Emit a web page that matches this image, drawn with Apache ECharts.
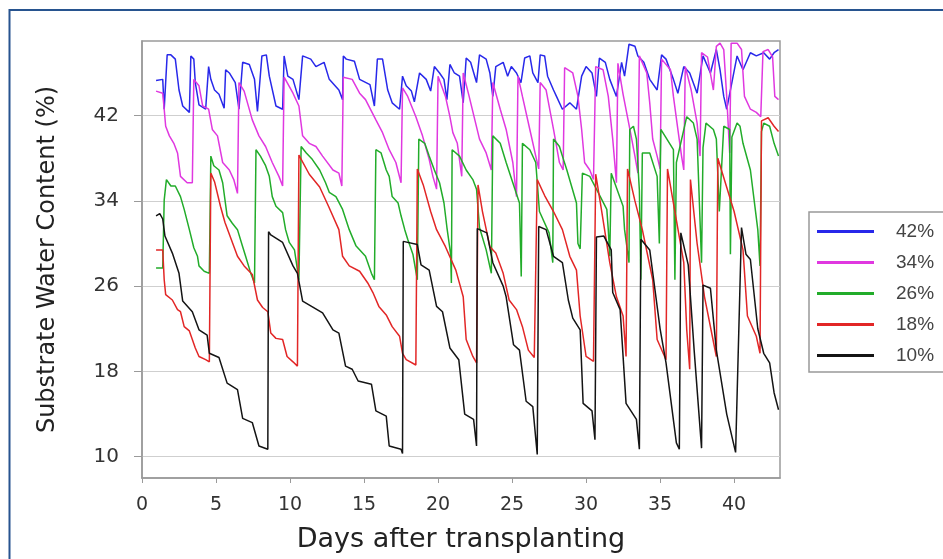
<!DOCTYPE html>
<html>
<head>
<meta charset="utf-8">
<script src="https://cdn.jsdelivr.net/npm/echarts@6/dist/echarts.min.js"></script>
<style>
  html, body { margin: 0; padding: 0; background: #fff; }
  #chart { width: 943px; height: 559px; }
</style>
</head>
<body>
<div id="chart"></div>
<script>
// x ticks and y ticks
const xTicks = [0, 5, 10, 15, 20, 25, 30, 35, 40]
const yTicks = [10, 18, 26, 34, 42]
const legendNames = ['42%', '34%', '26%', '18%', '10%']

// [day, water content %]
const blue42 = [[0.95,45.3],[1.4,45.4],[1.5,42.6],[1.7,47.7],[1.95,47.7],[2.25,47.3],[2.5,44.4],[2.75,42.9],[3.2,42.3],[3.3,47.6],[3.5,47.3],[3.6,45.1],[3.85,43.0],[4.3,42.6],[4.5,46.6],[4.65,45.4],[4.9,44.4],[5.2,44.0],[5.55,42.7],[5.65,46.3],[5.9,46.0],[6.3,45.1],[6.55,42.6],[6.8,47.0],[7.25,46.8],[7.6,45.4],[7.8,42.4],[8.1,47.6],[8.4,47.7],[8.6,45.7],[9.05,42.9],[9.5,42.6],[9.6,47.6],[9.85,45.7],[10.2,45.4],[10.6,43.5],[10.85,47.6],[11.4,47.3],[11.75,46.6],[12.3,47.0],[12.65,45.4],[13.3,44.4],[13.55,43.5],[13.6,47.6],[13.8,47.3],[14.35,47.1],[14.7,45.4],[15.4,44.9],[15.7,42.9],[15.9,47.3],[16.25,47.3],[16.6,44.4],[16.9,43.2],[17.4,42.6],[17.6,45.7],[17.85,44.8],[18.2,44.3],[18.4,43.3],[18.75,46.0],[19.2,45.4],[19.5,44.3],[19.75,46.6],[20.1,46.0],[20.4,45.4],[20.6,43.5],[20.8,46.8],[21.1,46.0],[21.45,45.7],[21.7,43.2],[21.9,47.4],[22.2,47.0],[22.6,45.1],[22.8,47.7],[23.25,47.3],[23.5,46.0],[23.7,43.8],[23.9,46.6],[24.4,47.0],[24.7,45.7],[24.95,46.6],[25.3,46.0],[25.6,45.1],[25.85,47.4],[26.2,47.6],[26.4,46.0],[26.75,45.1],[26.9,47.7],[27.2,47.6],[27.4,45.7],[27.8,44.4],[28.0,43.8],[28.4,42.6],[28.9,43.2],[29.35,42.6],[29.7,45.7],[30.0,46.6],[30.4,46.0],[30.7,43.8],[30.9,47.4],[31.3,47.0],[31.6,45.4],[32.05,43.8],[32.4,47.0],[32.6,45.7],[32.9,48.7],[33.3,48.5],[33.5,47.6],[33.9,47.0],[34.3,45.4],[34.8,44.4],[35.1,47.7],[35.4,47.3],[35.9,45.4],[36.2,44.1],[36.6,46.6],[37.0,46.0],[37.5,44.1],[37.9,47.6],[38.4,46.0],[38.8,48.2],[39.05,46.3],[39.3,43.8],[39.5,42.6],[40.2,47.6],[40.6,46.3],[41.1,47.9],[41.5,47.6],[42.0,47.9],[42.4,47.3],[42.7,47.9],[43.0,48.2]]

const magenta34 = [[0.95,44.3],[1.4,44.1],[1.5,42.6],[1.6,41.0],[1.85,40.1],[2.15,39.4],[2.4,38.5],[2.6,36.3],[3.05,35.7],[3.4,35.7],[3.5,45.4],[3.85,44.8],[4.1,42.9],[4.5,42.6],[4.75,40.7],[5.1,40.1],[5.45,37.6],[5.9,36.9],[6.2,36.0],[6.45,34.7],[6.55,45.1],[6.9,44.3],[7.45,41.6],[7.9,40.1],[8.35,39.1],[8.8,37.6],[9.25,36.3],[9.5,35.4],[9.6,45.6],[10.2,44.1],[10.6,42.9],[10.85,40.1],[11.3,39.4],[11.75,39.1],[12.2,38.2],[12.9,36.9],[13.3,36.6],[13.5,35.4],[13.6,45.6],[14.2,45.4],[14.7,44.1],[15.1,43.5],[15.8,41.6],[16.25,40.4],[16.7,38.8],[17.15,37.6],[17.5,35.7],[17.6,44.6],[17.95,43.8],[18.5,41.9],[18.95,40.1],[19.4,37.9],[19.65,36.3],[19.9,35.1],[20.0,45.7],[20.5,43.8],[20.8,41.9],[21.0,40.4],[21.3,39.4],[21.6,36.3],[21.7,46.0],[22.1,43.8],[22.8,39.8],[23.25,38.5],[23.6,36.9],[23.7,45.1],[24.2,42.6],[24.6,40.7],[25.05,37.6],[25.3,34.4],[25.4,45.7],[25.7,43.8],[26.2,40.7],[26.6,38.2],[26.8,37.0],[26.9,45.1],[27.3,44.4],[27.8,40.7],[28.2,37.6],[28.45,36.9],[28.55,46.5],[29.1,46.0],[29.45,43.8],[29.7,40.7],[29.9,37.6],[30.25,36.9],[30.5,36.0],[30.65,46.6],[31.15,46.3],[31.5,43.8],[31.8,39.8],[32.05,35.7],[32.15,46.9],[32.5,44.0],[32.96,40.7],[33.3,38.2],[33.5,36.6],[33.6,47.6],[34.1,46.0],[34.3,43.2],[34.5,39.8],[34.8,38.2],[35.0,37.0],[35.1,47.3],[35.7,46.3],[35.9,43.8],[36.2,40.7],[36.45,38.2],[36.6,36.9],[36.7,46.6],[37.1,44.4],[37.5,41.3],[37.7,38.2],[37.8,47.9],[38.2,47.5],[38.6,44.4],[38.8,48.5],[39.05,48.8],[39.3,48.2],[39.5,43.8],[39.7,38.5],[39.8,48.8],[40.2,48.8],[40.5,48.2],[40.7,43.8],[41.1,42.6],[41.5,42.3],[41.8,41.9],[41.95,48.0],[42.3,48.2],[42.6,47.5],[42.75,43.8],[43.0,43.5]]

const green26 = [[0.95,27.7],[1.4,27.7],[1.5,34.1],[1.65,36.0],[1.95,35.4],[2.25,35.4],[2.6,34.4],[2.85,33.2],[3.2,31.3],[3.5,29.6],[3.75,28.8],[3.85,27.9],[4.2,27.4],[4.55,27.2],[4.65,38.2],[4.85,37.3],[5.2,36.9],[5.45,35.7],[5.75,32.6],[6.1,31.9],[6.45,31.3],[6.8,29.7],[7.0,28.8],[7.35,27.2],[7.6,26.3],[7.7,38.8],[8.0,38.2],[8.35,37.3],[8.6,36.3],[8.8,34.4],[9.05,33.5],[9.5,32.9],[9.7,31.3],[9.95,30.1],[10.3,29.4],[10.6,26.6],[10.75,39.1],[11.1,38.5],[11.5,37.9],[12.0,36.9],[12.4,35.7],[12.65,34.8],[13.1,34.4],[13.55,33.2],[14.0,31.3],[14.45,29.8],[15.1,28.8],[15.5,27.2],[15.7,26.6],[15.8,38.8],[16.15,38.5],[16.5,36.9],[16.7,36.3],[16.9,34.4],[17.3,33.8],[17.5,32.6],[17.75,31.3],[17.95,30.4],[18.3,29.0],[18.6,26.6],[18.7,39.8],[19.1,39.4],[19.4,38.2],[19.75,36.9],[20.1,35.7],[20.4,33.8],[20.6,31.5],[20.85,29.0],[20.9,26.3],[20.95,38.8],[21.45,38.2],[21.9,36.9],[22.35,36.0],[22.6,35.1],[22.8,31.5],[23.25,29.4],[23.6,27.2],[23.7,40.1],[24.2,39.4],[24.6,37.6],[25.05,35.7],[25.5,33.8],[25.62,26.9],[25.7,39.4],[26.2,38.8],[26.6,37.6],[26.85,33.0],[27.5,31.0],[27.75,28.2],[27.8,39.8],[28.2,39.1],[28.4,38.2],[28.7,36.9],[29.35,33.8],[29.45,30.0],[29.6,29.5],[29.75,36.6],[30.25,36.3],[30.7,35.1],[31.4,33.2],[31.5,31.3],[31.6,28.8],[31.7,36.6],[32.5,33.5],[32.6,31.3],[32.9,28.2],[32.95,40.7],[33.2,41.0],[33.4,39.8],[33.6,35.0],[33.7,26.6],[33.8,38.5],[34.3,38.5],[34.8,36.3],[34.95,30.0],[35.05,40.7],[35.9,38.8],[36.0,26.6],[36.1,37.6],[36.8,41.9],[37.25,41.3],[37.5,39.8],[37.8,28.2],[37.9,39.0],[38.1,41.3],[38.6,40.7],[38.8,39.8],[39.0,33.0],[39.3,41.0],[39.7,40.7],[39.75,29.0],[39.85,40.0],[40.2,41.3],[40.4,41.0],[40.6,39.4],[41.1,36.9],[41.6,31.3],[41.75,27.9],[41.85,40.5],[42.0,41.3],[42.4,41.0],[42.7,39.4],[43.0,38.2]]

const red18 = [[0.95,29.4],[1.4,29.4],[1.5,26.6],[1.6,25.2],[2.05,24.7],[2.4,23.8],[2.6,23.6],[2.85,22.2],[3.2,21.8],[3.4,21.0],[3.6,20.2],[3.85,19.4],[4.3,19.1],[4.55,18.9],[4.65,36.6],[4.9,35.8],[5.3,33.5],[5.6,32.0],[6.0,30.5],[6.45,28.8],[6.9,27.9],[7.45,27.1],[7.8,24.7],[8.15,24.0],[8.5,23.6],[8.7,21.6],[9.05,21.1],[9.5,21.0],[9.8,19.4],[10.2,18.9],[10.5,18.5],[10.6,38.3],[11.3,36.5],[12.0,35.3],[12.6,33.5],[13.3,31.3],[13.55,28.8],[14.0,27.9],[14.7,27.4],[15.25,26.3],[15.6,25.4],[16.0,24.1],[16.5,23.3],[16.9,22.2],[17.4,21.3],[17.6,19.7],[17.85,19.1],[18.5,18.6],[18.6,37.0],[19.0,35.5],[19.5,33.0],[19.9,31.3],[20.5,29.7],[21.2,27.5],[21.7,25.0],[21.9,21.0],[22.35,19.4],[22.6,18.8],[22.7,35.5],[23.0,33.0],[23.5,29.7],[23.9,29.1],[24.4,27.2],[24.8,24.7],[25.3,23.8],[25.7,22.2],[26.1,20.0],[26.5,19.3],[26.7,36.0],[27.2,34.5],[27.8,33.0],[28.4,31.3],[28.9,28.8],[29.35,27.5],[29.6,23.2],[30.0,19.4],[30.5,18.95],[30.65,36.5],[31.0,33.5],[31.6,28.2],[32.05,25.0],[32.5,23.2],[32.7,19.4],[32.8,37.0],[33.3,34.0],[33.8,31.3],[34.5,26.6],[34.8,21.0],[35.4,19.1],[35.5,37.0],[36.0,33.0],[36.6,28.2],[36.8,21.9],[37.0,18.2],[37.05,36.0],[37.5,30.0],[38.0,25.0],[38.8,19.4],[38.9,38.0],[40.0,33.0],[40.6,29.4],[40.9,23.2],[41.5,21.3],[41.75,19.7],[41.85,41.5],[42.3,41.8],[42.7,41.0],[43.0,40.5]]

const black10 = [[0.95,32.6],[1.2,32.8],[1.4,32.3],[1.55,30.7],[2.05,29.1],[2.5,27.2],[2.75,24.6],[3.4,23.6],[3.85,21.9],[4.4,21.4],[4.55,19.7],[5.2,19.3],[5.75,16.9],[6.45,16.3],[6.8,13.6],[7.45,13.2],[7.9,11.0],[8.5,10.7],[8.55,31.1],[8.7,30.8],[9.5,30.1],[10.2,27.9],[10.5,27.2],[10.85,24.6],[12.2,23.5],[12.9,21.9],[13.3,21.6],[13.75,18.5],[14.2,18.2],[14.6,17.1],[15.5,16.8],[15.8,14.3],[16.5,13.8],[16.7,11.0],[17.5,10.7],[17.6,10.3],[17.65,30.2],[18.6,29.9],[18.85,28.0],[19.4,27.5],[19.9,24.1],[20.3,23.6],[20.8,20.2],[21.4,19.1],[21.8,14.0],[22.4,13.5],[22.6,11.0],[22.65,31.4],[23.3,31.0],[23.7,28.2],[24.4,26.0],[24.6,25.0],[25.1,20.5],[25.5,20.0],[25.95,15.2],[26.4,14.7],[26.7,10.2],[26.8,31.6],[27.3,31.3],[27.8,28.8],[28.4,28.2],[28.8,24.7],[29.1,23.0],[29.6,21.9],[29.8,15.0],[30.4,14.3],[30.6,11.6],[30.7,30.6],[31.2,30.7],[31.7,29.4],[31.8,25.4],[32.3,23.8],[32.7,15.0],[33.4,13.5],[33.6,10.7],[33.7,30.4],[34.3,29.4],[35.0,22.0],[35.4,18.8],[36.1,11.3],[36.3,10.7],[36.4,31.0],[36.9,28.0],[37.3,20.0],[37.8,10.8],[37.9,26.1],[38.4,25.8],[38.8,20.0],[39.5,14.0],[40.1,10.4],[40.5,31.5],[40.8,29.0],[41.1,28.5],[41.6,22.0],[42.0,19.7],[42.4,18.8],[42.7,16.0],[43.0,14.4]]

const chart = echarts.init(document.getElementById('chart'))

const axisGray = '#9a9a9a'
const colors = ['#2828ea', '#e038e0', '#22ac2a', '#e22626', '#141414']
const seriesData = [blue42, magenta34, green26, red18, black10]

chart.setOption({
  backgroundColor: '#ffffff',
  animation: false,
  color: colors,
  graphic: [{
    type: 'rect',
    shape: { x: 9.5, y: 10, width: 1000, height: 600 },
    style: { fill: 'none', stroke: '#27538f', lineWidth: 2 },
    silent: true
  }],
  grid: {
    left: 142, right: 163, top: 41, bottom: 81,
    show: true, borderColor: axisGray, borderWidth: 1.5, backgroundColor: '#fff'
  },
  legend: {
    orient: 'vertical',
    left: 809, top: 212,
    padding: [10, 60, 7, 8],
    itemWidth: 57, itemHeight: 3, itemGap: 12,
    icon: 'rect',
    backgroundColor: '#fff',
    borderColor: '#999', borderWidth: 1.5,
    data: legendNames,
    textStyle: {
      fontFamily: 'Liberation Sans', fontSize: 19, color: '#444',
      lineHeight: 18, padding: [0, 0, 0, 17]
    }
  },
  xAxis: {
    type: 'value', min: 0, max: 43.1,
    name: 'Days after transplanting', nameLocation: 'middle', nameGap: 48,
    nameTextStyle: { fontFamily: 'DejaVu Sans', fontSize: 27, color: '#222' },
    axisLine: { show: true, lineStyle: { color: axisGray, width: 1.5 } },
    axisTick: { show: true, customValues: xTicks, length: 5, lineStyle: { color: axisGray } },
    axisLabel: { customValues: xTicks, margin: 18, fontFamily: 'DejaVu Sans', fontSize: 19, color: '#333' },
    splitLine: { show: false }
  },
  yAxis: {
    type: 'value', min: 8, max: 49,
    name: 'Substrate Water Content (%)', nameLocation: 'middle', nameGap: 82,
    nameTextStyle: { fontFamily: 'DejaVu Sans', fontSize: 24, color: '#222' },
    axisLine: { show: true, lineStyle: { color: axisGray, width: 1.5 } },
    axisTick: { show: true, customValues: yTicks, length: 8, lineStyle: { color: axisGray } },
    axisLabel: { customValues: yTicks, margin: 23, fontFamily: 'DejaVu Sans', fontSize: 20, color: '#333' },
    splitLine: { show: true, lineStyle: { color: '#cfcfcf', width: 1 } }
  },
  series: seriesData.map((d, i) => ({
    name: legendNames[i],
    type: 'line',
    data: d,
    showSymbol: false,
    symbol: 'none',
    lineStyle: { width: 1.5, color: colors[i] },
    itemStyle: { color: colors[i] },
    z: 2 + i
  }))
})
</script>
</body>
</html>
